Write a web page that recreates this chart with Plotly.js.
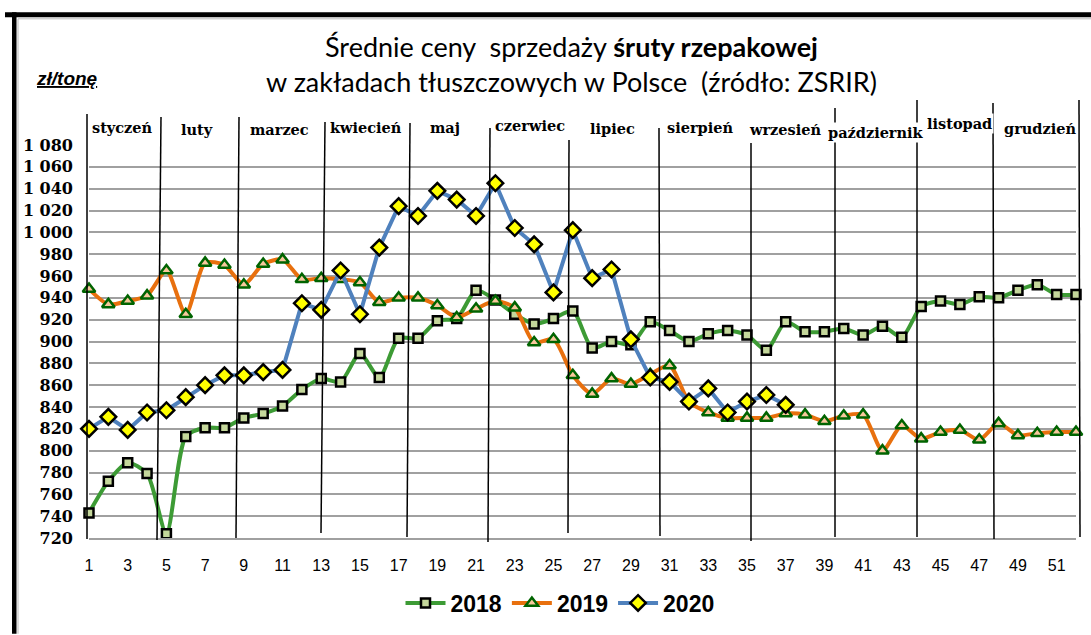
<!DOCTYPE html>
<html>
<head>
<meta charset="utf-8">
<script src="https://cdn.plot.ly/plotly-3.0.1.min.js"></script>
<style>html,body{margin:0;padding:0;background:#fff;}#chart{width:1091px;height:635px;}</style>
</head>
<body>
<div id="chart"></div>
<script>
// ---- data ----
const weeks = [1,2,3,4,5,6,7,8,9,10,11,12,13,14,15,16,17,18,19,20,21,22,23,24,25,26,27,28,29,30,31,32,33,34,35,36,37,38,39,40,41,42,43,44,45,46,47,48,49,50,51,52];
const price2018 = [743,772,789,779,724,813,821,821,830,834,841,856,866,863,889,867,903,903,919,921,947,938,925,916,921,928,894,900,897,918,910,900,907,910,906,892,918,909,909,912,906,914,904,932,937,934,941,940,947,952,943,943];
const price2019 = [948,934,937,942,965,925,972,970,952,971,975,957,958,957,954,936,940,940,933,922,930,937,931,899,902,869,852,866,861,870,878,845,835,830,830,830,834,833,827,832,833,800,823,811,817,819,810,825,814,816,817,817];
const price2020 = [820,831,819,835,837,849,860,869,869,872,874,935,929,965,925,986,1024,1015,1038,1030,1015,1045,1004,989,945,1002,958,966,902,867,863,845,857,835,845,851,842];
const seriesNames = ['2018','2019','2020'];
const months = ['styczeń','luty','marzec','kwiecień','maj','czerwiec','lipiec','sierpień','wrzesień','październik','listopad','grudzień'];
const yTickVals = [720,740,760,780,800,820,840,860,880,900,920,940,960,980,1000,1020,1040,1060,1080];
const yTickText = ['720','740','760','780','800','820','840','860','880','900','920','940','960','980','1 000','1 020','1 040','1 060','1 080'];
const xTickVals = [1,3,5,7,9,11,13,15,17,19,21,23,25,27,29,31,33,35,37,39,41,43,45,47,49,51];
const xTickText = xTickVals.map(String);

// ---- layout geometry (pixels) ----
const W = 1091, H = 635, ML = 89, MR = 15, MT = 145, MB = 96;
const PW = W - ML - MR, PH = H - MT - MB;
const px = x => (x - ML) / PW;
const py = y => (H - MB - y) / PH;

// month separator lines: [xTop, yTop, xBottom, yBottom]
const monthLines = [
  [87,114,87,540],[161,117,157,541],[239,117,236,539],[325,122,321,534],
  [410,123,407,538],[490,128,488,543],[569,140,568,534],[659,128,660,537],
  [751,143,751,542],[835,108,835,538],[917,100,917,538],[993,103,994,540],
  [1079,100,1080,538]
];
const monthLabelPos = [
  [122,127],[197,129],[279,129],[366,127],[445,127],[530,125],
  [612,128],[700,127],[785,129],[876,132],[959,123],[1040,128]
];

const shapes = [];
monthLines.forEach(l => shapes.push({
  type:'line', xref:'paper', yref:'paper',
  x0:px(l[0]), y0:py(l[1]), x1:px(l[2]), y1:py(l[3]),
  line:{color:'#000', width:1.5}, layer:'above'
}));
// frame
shapes.push({type:'rect', xref:'paper', yref:'paper', x0:px(5), x1:px(1091), y0:py(12), y1:py(17), fillcolor:'#000', line:{width:0}, layer:'above'});
shapes.push({type:'rect', xref:'paper', yref:'paper', x0:px(12), x1:px(16.5), y0:py(12), y1:py(635), fillcolor:'#000', line:{width:0}, layer:'above'});
shapes.push({type:'line', xref:'paper', yref:'paper', x0:px(18), x1:px(1091), y0:py(18.5), y1:py(18.5), line:{color:'#bbbbbb', width:1}, layer:'above'});
shapes.push({type:'line', xref:'paper', yref:'paper', x0:px(18), x1:px(18), y0:py(18.5), y1:py(635), line:{color:'#bbbbbb', width:1}, layer:'above'});

const annotations = months.map((m,i) => ({
  text:'<b>'+m+'</b>', xref:'paper', yref:'paper',
  x:px(monthLabelPos[i][0]), y:py(monthLabelPos[i][1]),
  xanchor:'center', yanchor:'middle', showarrow:false,
  font:{family:'DejaVu Serif', size:14.5, color:'#000'},
  bgcolor:'#fff', borderpad:1
}));
annotations.push({
  text:'<b><i><u>zł/tonę</u></i></b>', xref:'paper', yref:'paper',
  x:px(67), y:py(78), xanchor:'center', yanchor:'middle', showarrow:false,
  font:{family:'Liberation Sans', size:19, color:'#000'}
});

const traces = [
  {x:weeks, y:price2018, name:seriesNames[0], type:'scatter', mode:'lines+markers',
   line:{color:'#3d9b35', width:4, shape:'spline', smoothing:0.7},
   marker:{symbol:'square', size:9, color:'#c4d79b', line:{color:'#000', width:2.5}},
   cliponaxis:false},
  {x:weeks, y:price2019, name:seriesNames[1], type:'scatter', mode:'lines+markers',
   line:{color:'#e8700e', width:4, shape:'spline', smoothing:0.7},
   marker:{symbol:'triangle-up', size:11, color:'#f8c89c', line:{color:'#006400', width:2.5}},
   cliponaxis:false},
  {x:weeks.slice(0, price2020.length), y:price2020, name:seriesNames[2], type:'scatter', mode:'lines+markers',
   line:{color:'#4f81bd', width:4},
   marker:{symbol:'diamond', size:12, color:'#ffff00', line:{color:'#000', width:2.5}},
   cliponaxis:false}
];

const layout = {
  width:W, height:H,
  margin:{l:ML, r:MR, t:MT, b:MB, pad:0},
  paper_bgcolor:'#fff', plot_bgcolor:'#fff',
  title:{
    text:'Średnie ceny  sprzedaży <b>śruty rzepakowej</b><br>w zakładach tłuszczowych w Polsce  (źródło: ZSRIR)',
    xref:'container', yref:'container', x:571.5/W, xanchor:'center',
    y:1-57/H, yanchor:'top',
    font:{family:'Lato', size:27, color:'#000'}
  },
  xaxis:{
    range:[1,52], tickvals:xTickVals, ticktext:xTickText,
    showgrid:false, zeroline:false, showline:true, linecolor:'#a0a0a0', linewidth:2,
    ticks:'', ticklabelstandoff:12,
    tickfont:{family:'Liberation Sans', size:16, color:'#000'}, fixedrange:true
  },
  yaxis:{
    range:[720,1080], tickvals:yTickVals, ticktext:yTickText,
    showgrid:true, gridcolor:'#a0a0a0', gridwidth:2, zeroline:false, showline:false,
    ticks:'', ticklabelstandoff:15,
    tickfont:{family:'DejaVu Serif', size:16, color:'#000', weight:'bold'}, fixedrange:true
  },
  showlegend:true,
  legend:{
    orientation:'h', x:px(560), xanchor:'center', y:py(603), yanchor:'middle',
    font:{family:'Liberation Sans', size:23, color:'#000', weight:'bold'},
    bgcolor:'rgba(0,0,0,0)', itemwidth:40, traceorder:'normal'
  },
  shapes:shapes,
  annotations:annotations
};

Plotly.newPlot('chart', traces, layout, {staticPlot:true, displayModeBar:false});
</script>
</body>
</html>
